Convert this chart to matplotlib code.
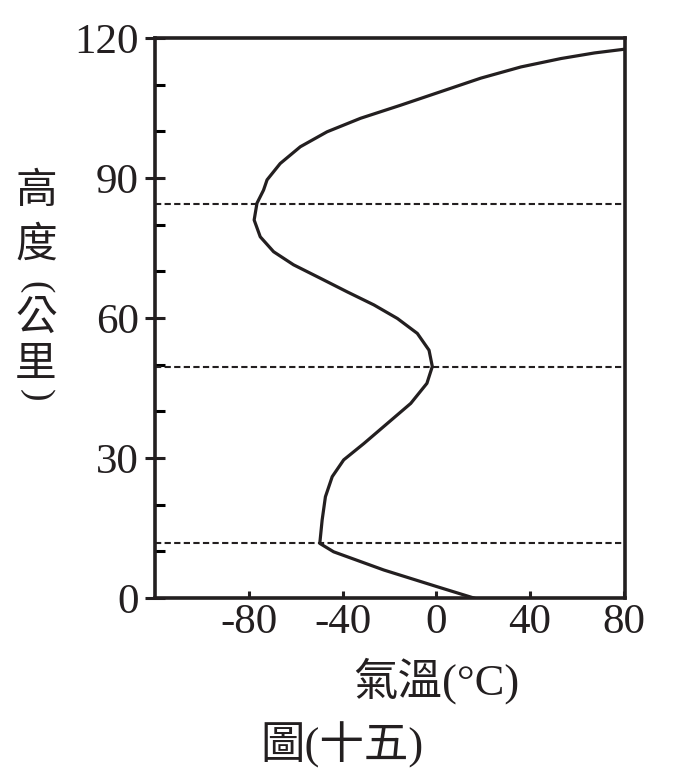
import matplotlib
matplotlib.use("Agg")
import matplotlib.pyplot as plt

plt.rcParams['axes.unicode_minus'] = False

# temperature profile (km, deg C)
height_km = [0.0, 2.4, 6.0, 9.9, 11.7, 16.7, 21.7, 26.0, 29.6, 33.1, 37.4, 41.7,
             46.0, 49.6, 53.1, 56.7, 59.9, 62.8, 65.6, 68.5, 71.4, 74.2, 77.4,
             81.0, 84.6, 87.4, 89.6, 93.1, 96.7, 99.9, 102.8, 105.6, 108.5,
             111.4, 113.8, 115.6, 116.8, 117.6]
temp_c = [16.0, 0.5, -22.4, -43.8, -49.7, -48.7, -47.3, -44.4, -39.5, -30.9, -20.9, -10.9,
          -4.0, -1.7, -3.1, -8.1, -16.6, -26.6, -38.0, -49.4, -60.9, -69.4, -75.1,
          -77.7, -76.5, -73.7, -72.2, -66.6, -58.0, -46.6, -32.3, -15.2, 1.9,
          19.0, 36.1, 53.2, 67.5, 80.3]

# layer boundaries (tropopause, stratopause, mesopause)
boundaries_km = [11.8, 49.5, 84.4]

x_ticks = [-80, -40, 0, 40, 80]
y_ticks = [0, 30, 60, 90, 120]
y_minor = [10, 20, 40, 50, 70, 80, 100, 110]

serif = ['Liberation Serif', 'Noto Sans CJK TC']
cjk = ['Noto Sans CJK TC', 'Liberation Serif']
ink = '#231f20'

fig = plt.figure(figsize=(6.75, 7.83), dpi=100)
ax = fig.add_axes([155 / 675, 185 / 783, 470 / 675, 560 / 783])

ax.plot(temp_c, height_km, color=ink, lw=2.3, solid_joinstyle='round')
for h in boundaries_km:
    ax.axhline(h, color=ink, lw=1.5, linestyle=(0, (3, 1.6)))

ax.set_xlim(-120, 80.5)
ax.set_ylim(0, 120)

ax.set_xticks(x_ticks)
ax.set_xticklabels([str(v) for v in x_ticks], family=serif, fontsize=31)
ax.set_yticks(y_ticks)
ax.set_yticklabels([str(v) for v in y_ticks], family=serif, fontsize=31)
ax.set_yticks(y_minor, minor=True)

ax.tick_params(axis='x', direction='in', length=5, width=2.2, pad=4, colors=ink)
ax.tick_params(axis='y', which='major', direction='inout', length=15, width=2.2, pad=4,
               colors=ink)
ax.tick_params(axis='y', which='minor', direction='in', length=7, width=2.2)

for s in ax.spines.values():
    s.set_linewidth(2.6)
    s.set_color(ink)

# vertical y label, one character per line, parentheses turned sideways
for ch, py in zip(['高', '度', '公', '里'], [192, 245, 318, 365]):
    fig.text(36 / 675, 1 - py / 783, ch, family=cjk, fontsize=30,
             ha='center', va='center', color=ink)
fig.text(36 / 675, 1 - 287 / 783, '(', family='Liberation Serif', fontsize=27,
         rotation=-90, ha='center', va='center', color=ink)
fig.text(36 / 675, 1 - 395 / 783, ')', family='Liberation Serif', fontsize=27,
         rotation=-90, ha='center', va='center', color=ink)

fig.text(436 / 675, 1 - 681 / 783, '氣溫(°C)', family=serif, fontsize=32,
         ha='center', va='center', color=ink)
fig.text(342 / 675, 1 - 745 / 783, '圖(十五)', family=serif, fontsize=32,
         ha='center', va='center', color=ink)

fig.savefig('out.png', dpi=100)
